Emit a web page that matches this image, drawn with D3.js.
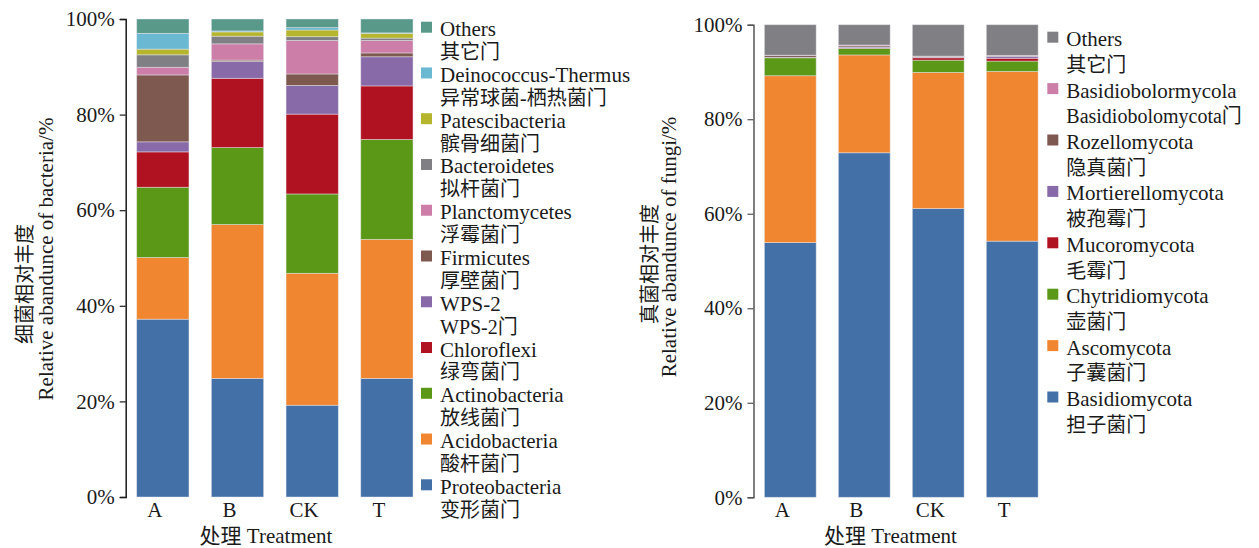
<!DOCTYPE html>
<html><head><meta charset="utf-8">
<script src="https://cdn.jsdelivr.net/npm/d3@7"></script>
<style>
html,body{margin:0;padding:0;background:#fff;}
svg text{font-family:"Liberation Serif","Times New Roman","Noto Sans CJK SC",serif;fill:#1a1a1a;}
</style></head>
<body>
<svg id="chart" width="1259" height="548"></svg>
<script>
// ---------- DATA ----------
const treatments = ["A", "B", "CK", "T"];

// Bacteria (stack order bottom -> top)
const bacteriaKeys = ["Proteobacteria","Acidobacteria","Actinobacteria","Chloroflexi","WPS-2","Firmicutes","Planctomycetes","Bacteroidetes","Patescibacteria","Deinococcus-Thermus","Others"];
const bacteriaCN = ["变形菌门","酸杆菌门","放线菌门","绿弯菌门","WPS-2门","厚壁菌门","浮霉菌门","拟杆菌门","髌骨细菌门","异常球菌-栖热菌门","其它门"];
const proteobacteria   = [37.2, 24.8, 19.2, 24.8];
const acidobacteria    = [12.9, 32.2, 27.6, 29.1];
const actinobacteria   = [14.7, 16.1, 16.6, 20.9];
const chloroflexi      = [7.4, 14.5, 16.7, 11.2];
const wps2             = [2.1, 3.5, 6.0, 6.1];
const firmicutes       = [14.0, 0.3, 2.4, 0.8];
const planctomycetes   = [1.6, 3.4, 7.0, 2.6];
const bacteroidetes    = [2.6, 1.6, 0.8, 0.5];
const patescibacteria  = [1.2, 0.9, 1.4, 1.0];
const deinococcus      = [3.3, 0.2, 0.5, 0.1];
const bacteriaOthers   = [3.0, 2.5, 1.8, 2.9];

// Fungi (stack order bottom -> top)
const fungiKeys = ["Basidiomycota","Ascomycota","Chytridiomycota","Mucoromycota","Mortierellomycota","Rozellomycota","Basidiobolormycola","Others"];
const fungiCN = ["担子菌门","子囊菌门","壶菌门","毛霉门","被孢霉门","隐真菌门","Basidiobolomycota门","其它门"];
const basidiomycota      = [53.9, 72.9, 61.1, 54.2];
const ascomycota         = [35.3, 20.7, 28.8, 35.9];
const chytridiomycota    = [3.8, 1.4, 2.6, 2.2];
const mucoromycota       = [0.05, 0.1, 0.5, 0.6];
const mortierellomycota  = [0.05, 0.2, 0.1, 0.4];
const rozellomycota      = [0.4, 0.3, 0.2, 0.1];
const basidiobolormycola = [0.05, 0.1, 0.05, 0.1];
const fungiOthers        = [6.45, 4.3, 6.65, 6.5];

const yTicks = [0, 20, 40, 60, 80, 100];

// ---------- STYLE ----------
const bacteriaColors = ["#4470a8","#f0862f","#5c9818","#b11222","#886aa8","#7e5950","#cc7ea8","#807f83","#b5b52e","#6ab8d2","#58998a"];
const fungiColors = ["#4470a8","#f0862f","#5c9818","#b11222","#886aa8","#7e5950","#cc7ea8","#807f83"];

const svg = d3.select("#chart");

function buildRows(keys, series) {
  return treatments.map((t, i) => {
    const row = {treatment: t};
    keys.forEach((k, j) => row[k] = series[j][i]);
    return row;
  });
}

const bacteriaRows = buildRows(bacteriaKeys, [proteobacteria, acidobacteria, actinobacteria, chloroflexi, wps2, firmicutes, planctomycetes, bacteroidetes, patescibacteria, deinococcus, bacteriaOthers]);
const fungiRows = buildRows(fungiKeys, [basidiomycota, ascomycota, chytridiomycota, mucoromycota, mortierellomycota, rozellomycota, basidiobolormycola, fungiOthers]);

function drawPanel(cfg) {
  const g = svg.append("g");
  const x = d3.scaleBand().domain(treatments).range([cfg.axisX, cfg.xEnd]).paddingInner(0.3).paddingOuter(0.147);
  const y = d3.scaleLinear().domain([0, 100]).range([cfg.y0, cfg.y100]);
  const color = d3.scaleOrdinal().domain(cfg.keys).range(cfg.colors);
  const stacked = d3.stack().keys(cfg.keys)(cfg.rows);

  g.selectAll("g.layer").data(stacked).join("g").attr("class", "layer")
    .attr("fill", d => color(d.key))
    .selectAll("rect").data(d => d).join("rect")
    .attr("x", d => x(d.data.treatment))
    .attr("width", x.bandwidth())
    .attr("y", d => y(d[1]))
    .attr("height", d => Math.max(0, y(d[0]) - y(d[1])))
    .attr("stroke", "rgba(235,235,240,0.55)")
    .attr("stroke-width", 0.8);

  // y axis
  const yAxis = d3.axisLeft(y).tickValues(yTicks).tickFormat(d => d + "%").tickSizeOuter(0).tickSize(6).tickPadding(5);
  const ya = g.append("g").attr("transform", `translate(${cfg.axisX},0)`).call(yAxis);
  ya.select(".domain").attr("stroke", cfg.axisColor).attr("stroke-width", 1.5);
  ya.selectAll(".tick line").attr("stroke", cfg.axisColor).attr("stroke-width", 1.2);
  ya.selectAll(".tick text").attr("font-size", 21).attr("font-family", "Liberation Serif, serif").attr("fill", "#1a1a1a");

  // x labels
  g.selectAll("text.xl").data(treatments).join("text").attr("class", "xl")
    .attr("x", d => x(d) + x.bandwidth() / 2 - 8)
    .attr("y", cfg.y0 + 20)
    .attr("text-anchor", "middle").attr("font-size", 21).text(d => d);

  // x title
  g.append("text").attr("x", cfg.xTitleX).attr("y", cfg.y0 + 46).attr("text-anchor", "middle")
    .attr("font-size", 21).text("处理 Treatment");

  // y titles
  g.append("text").attr("transform", `translate(${cfg.cnX},${cfg.cnY}) rotate(-90)`)
    .attr("text-anchor", "middle").attr("font-size", 20).text(cfg.yTitleCN);
  g.append("text").attr("transform", `translate(${cfg.enX},${cfg.enY}) rotate(-90)`)
    .attr("text-anchor", "middle").attr("font-size", 21).text(cfg.yTitleEN);

  // legend (top -> bottom reverses stack order)
  const legendKeys = cfg.keys.slice().reverse();
  const legendCN = cfg.cn.slice().reverse();
  const lg = g.append("g");
  legendKeys.forEach((k, i) => {
    const top = cfg.legTop + i * cfg.legPitch;
    lg.append("rect").attr("x", cfg.legX).attr("y", top).attr("width", 11).attr("height", 11).attr("fill", color(k));
    lg.append("text").attr("x", cfg.legX + 19).attr("y", top + 14.5).attr("font-size", 21).text(k);
    lg.append("text").attr("x", cfg.legX + 19).attr("y", top + 14.5 + cfg.legPitch / 2).attr("font-size", 20).text(legendCN[i]);
  });
}

drawPanel({
  keys: bacteriaKeys, cn: bacteriaCN, rows: bacteriaRows, colors: bacteriaColors,
  axisX: 125.7, xEnd: 424, y0: 497, y100: 19, axisColor: "#1a1a1a",
  xTitleX: 266,
  cnX: 32, cnY: 284, enX: 53, enY: 259,
  yTitleCN: "细菌相对丰度", yTitleEN: "Relative abandunce of bacteria/%",
  legX: 421, legTop: 21.7, legPitch: 45.76
});

drawPanel({
  keys: fungiKeys, cn: fungiCN, rows: fungiRows, colors: fungiColors,
  axisX: 753.5, xEnd: 1049, y0: 497.3, y100: 24.7, axisColor: "#555",
  xTitleX: 890.5,
  cnX: 657, cnY: 264, enX: 676, enY: 247,
  yTitleCN: "真菌相对丰度", yTitleEN: "Relative abandunce of fungi/%",
  legX: 1047.3, legTop: 31.7, legPitch: 51.4
});
</script>
</body></html>
